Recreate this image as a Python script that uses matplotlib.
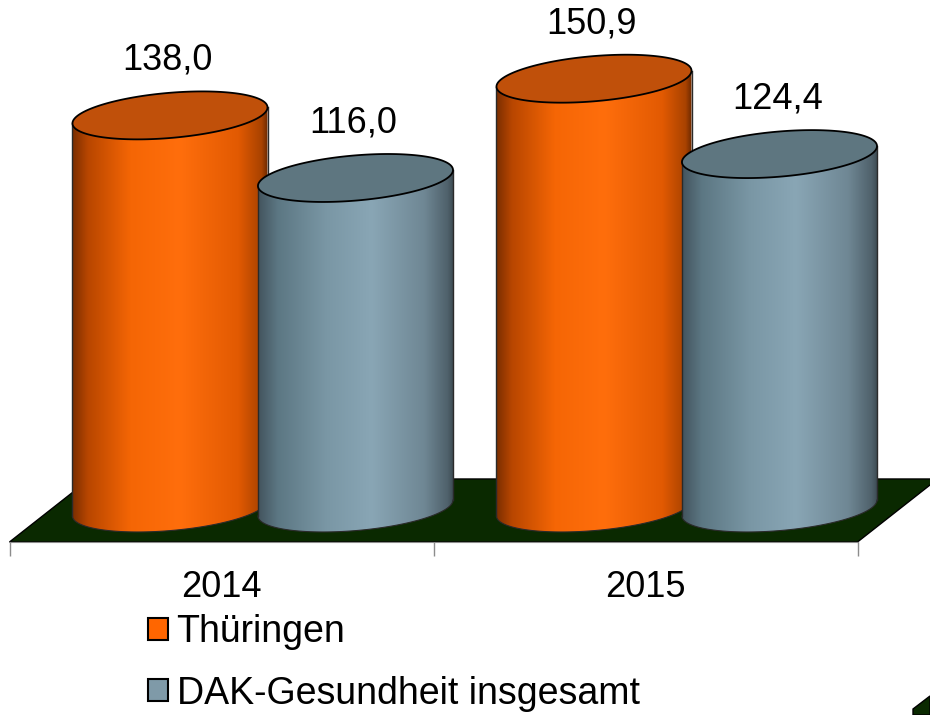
"""
Zylinder-Diagramm: Thüringen vs. DAK-Gesundheit insgesamt
"""
import numpy as np
import matplotlib
matplotlib.use("Agg")
import matplotlib.pyplot as plt
from matplotlib.patches import Polygon, Patch
from matplotlib.colors import LinearSegmentedColormap

plt.rcParams['font.family'] = ['Liberation Sans', 'DejaVu Sans']

# Daten
jahre = ['2014', '2015']
serien = ['Thüringen', 'DAK-Gesundheit insgesamt']
thueringen = [138.0, 150.9]
dak_gesamt = [116.0, 124.4]

# Farben
orange_cmap = LinearSegmentedColormap.from_list('orange', [
    (0.0, '#7a2e00'), (0.08, '#b84600'), (0.3, '#f56605'),
    (0.55, '#ff6e0c'), (0.85, '#e25a02'), (0.97, '#a84200'), (1.0, '#6e2a00')])
blau_cmap = LinearSegmentedColormap.from_list('blau', [
    (0.0, '#43545e'), (0.1, '#5c7783'), (0.35, '#7a97a5'),
    (0.58, '#89a6b5'), (0.85, '#6f8794'), (0.97, '#4f616b'), (1.0, '#3c4a52')])
orange_top = '#c0500a'
blau_top = '#5e7680'
orange_legend = '#ff6600'
blau_legend = '#7f9aa8'
boden_farbe = '#0a2900'

# Geometrie (Datenkoordinaten)
half_w = 0.23       # halbe Zylinderbreite (Kategorie-Einheiten)
ry = 7.95           # halbe Ellipsenhoehe (Werte-Einheiten)
tilt = 2.8          # Schraege der Ellipse
offsets = [-0.1215, 0.316]
y_front = -11.95
y_back = 10.2
shift = 0.189


def zylinder(ax, cx, value, cmap, top_color, z):
    t = np.linspace(np.pi, 2 * np.pi, 120)
    bx = cx + half_w * np.cos(t)
    by = ry * np.sin(t) + tilt * np.cos(t)
    xs = np.r_[bx, cx + half_w, cx - half_w]
    ys = np.r_[by, value + tilt, value - tilt]
    seite = Polygon(np.column_stack([xs, ys]), closed=True, facecolor='none', edgecolor='none', zorder=z)
    ax.add_patch(seite)
    grad = np.linspace(0, 1, 256).reshape(1, -1)
    im = ax.imshow(grad, cmap=cmap, aspect='auto', origin='lower', zorder=z,
                   extent=[cx - half_w, cx + half_w, -ry - tilt, value + tilt])
    im.set_clip_path(seite)
    # Kanten
    ax.plot(bx, by, color='#2a2a2a', lw=0.8, zorder=z + 0.1)
    ax.plot([cx - half_w, cx - half_w], [-tilt, value - tilt], color='#2a2a2a', lw=1.0, zorder=z + 0.1)
    ax.plot([cx + half_w, cx + half_w], [tilt, value + tilt], color='#2a2a2a', lw=1.0, zorder=z + 0.1)
    # Deckel
    t2 = np.linspace(0, 2 * np.pi, 200)
    tx = cx + half_w * np.cos(t2)
    ty = value + ry * np.sin(t2) + tilt * np.cos(t2)
    ax.add_patch(Polygon(np.column_stack([tx, ty]), closed=True, facecolor=top_color,
                         edgecolor='black', lw=1.3, zorder=z + 0.2))
    ax.text(cx - 0.005, value + 16, f'{value:.1f}'.replace('.', ','), ha='center', va='baseline',
            fontsize=26, zorder=z + 0.3)


fig = plt.figure(figsize=(9.3, 7.15), dpi=100)
bottom = (715 - 542) / 715
ax = fig.add_axes([0, bottom, 1, 1 - bottom])

# Boden
boden = Polygon([(-0.5, y_front), (1.5, y_front), (1.5 + shift, y_back), (-0.5 + shift, y_back)],
                closed=True, facecolor=boden_farbe, edgecolor='black', lw=1, zorder=1, clip_on=False)
ax.add_patch(boden)

z = 2
for i in range(len(jahre)):
    zylinder(ax, i + offsets[0], thueringen[i], orange_cmap, orange_top, z)
    z += 1
    zylinder(ax, i + offsets[1], dak_gesamt[i], blau_cmap, blau_top, z)
    z += 1

ax.set_xlim(-221.5 / 424, (930 - 221.5) / 424)
ax.set_ylim(y_front, 508 / 2.845)

for s in ['top', 'left', 'right']:
    ax.spines[s].set_visible(False)
ax.spines['bottom'].set_bounds(-0.5, 1.5)
ax.spines['bottom'].set_color('#8c8c8c')
ax.set_yticks([])
ax.set_xticks([-0.5, 0.5, 1.5], labels=['', '', ''])
ax.tick_params(axis='x', which='major', length=10, color='#8c8c8c', width=1)
ax.set_xticks([0, 1], labels=jahre, minor=True)
ax.tick_params(axis='x', which='minor', length=0, pad=20, labelsize=26)
ax.patch.set_visible(False)

# Legende
handles = [Patch(facecolor=orange_legend, edgecolor='black', lw=1.5, label=serien[0]),
           Patch(facecolor=blau_legend, edgecolor='black', lw=1.5, label=serien[1])]
fig.legend(handles=handles, loc='upper left', bbox_to_anchor=(148 / 930, 1 - 614 / 715),
           frameon=False, fontsize=27, handlelength=0.54, handleheight=0.54,
           handletextpad=0.22, labelspacing=0.68, borderpad=0, borderaxespad=0)

# abgeschnittene Ecke unten rechts
fig.patches.append(Polygon([(913 / 930, 0), (913 / 930, 6 / 715), (1, 19 / 715), (1, 0)],
                           closed=True, transform=fig.transFigure, facecolor=boden_farbe,
                           edgecolor='black', lw=1))

fig.savefig('out.png', dpi=100)
